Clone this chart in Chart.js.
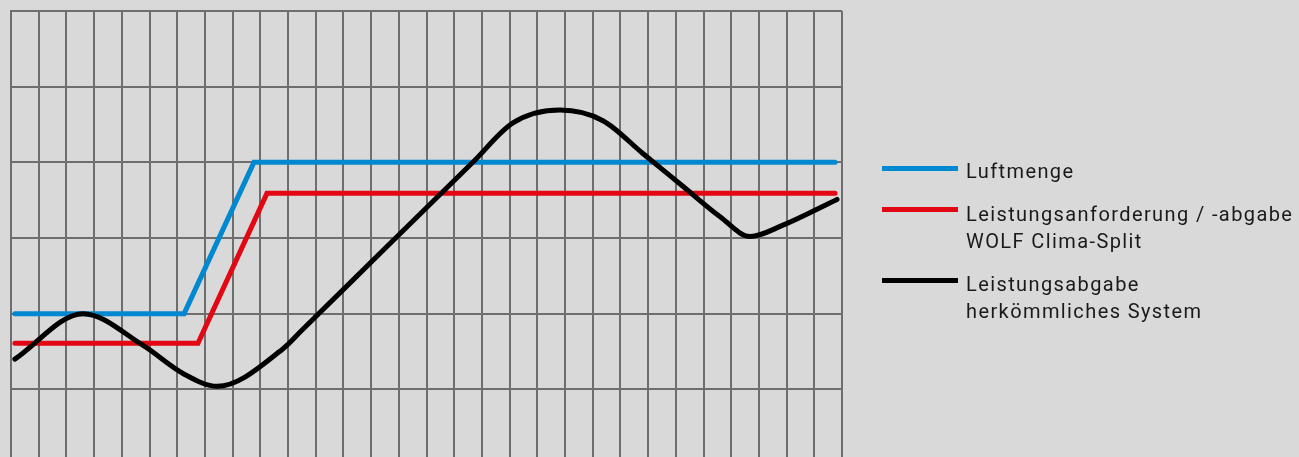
<!DOCTYPE html>
<html>
<head>
<meta charset="utf-8">
<script src="https://cdn.jsdelivr.net/npm/chart.js@4"></script>
<style>
  html, body { margin:0; padding:0; background:#d9d9d9; overflow:hidden; width:1299px; height:457px; }
  #wrap { position:absolute; left:0; top:0; width:1299px; height:470px; }
  .leg { position:absolute; left:882px; width:76px; height:5px; }
  .txt { position:absolute; left:966px; font-family:Roboto, sans-serif; font-size:20px; line-height:27px; color:#1a1a1a; letter-spacing:1.4px; white-space:nowrap; }
</style>
</head>
<body>
<div id="wrap"><canvas id="c"></canvas></div>
<div class="leg" style="top:166px;background:#0088d0"></div>
<div class="txt" style="top:158px">Luftmenge</div>
<div class="leg" style="top:207px;background:#e30613"></div>
<div class="txt" style="top:201px">Leistungsanforderung / -abgabe<br>WOLF Clima-Split</div>
<div class="leg" style="top:278px;background:#000000"></div>
<div class="txt" style="top:271px">Leistungsabgabe<br>herkömmliches System</div>
<script>
const seriesNames = ['Luftmenge', 'Leistungsanforderung / -abgabe WOLF Clima-Split', 'Leistungsabgabe herkömmliches System'];
const blueX = [0.14, 6.25, 8.77, 29.75];
const blueY = [2.00, 2.00, 4.00, 4.00];
const redX  = [0.14, 6.75, 9.24, 29.75];
const redY  = [1.61, 1.61, 3.59, 3.59];
const blackX = [0.14, 2.60, 4.77, 6.21, 7.44, 9.80, 10.50, 13.61, 16.70, 18.12, 19.82, 21.37, 22.80, 24.20, 25.60, 26.68, 27.87, 29.82];
const blackY = [1.40, 2.00, 1.58, 1.21, 1.04, 1.53, 1.78, 2.90, 4.01, 4.52, 4.69, 4.55, 4.12, 3.70, 3.28, 3.02, 3.17, 3.51];
const xMin = 0, xMax = 30, yMin = 0, yMax = 6;

const pts = (xs, ys) => xs.map((x, i) => ({ x: x, y: ys[i] }));

new Chart(document.getElementById('c'), {
  type: 'line',
  data: {
    datasets: [
      { label: seriesNames[2], data: pts(blackX, blackY), borderColor: '#000000', borderWidth: 5, pointRadius: 0, cubicInterpolationMode: 'monotone', borderCapStyle: 'round', order: 1 },
      { label: seriesNames[0], data: pts(blueX, blueY), borderColor: '#0088d0', borderWidth: 5, pointRadius: 0, tension: 0, borderCapStyle: 'round', order: 3 },
      { label: seriesNames[1], data: pts(redX, redY), borderColor: '#e30613', borderWidth: 5, pointRadius: 0, tension: 0, borderCapStyle: 'round', order: 2 }
    ]
  },
  options: {
    responsive: true,
    maintainAspectRatio: false,
    animation: false,
    layout: { padding: { left: 11, top: 11, right: 457, bottom: 5 } },
    plugins: { legend: { display: false }, tooltip: { enabled: false } },
    scales: {
      x: {
        type: 'linear', min: xMin, max: xMax,
        ticks: { display: false, stepSize: 1 },
        grid: { color: '#6e6e6e', lineWidth: 2, drawTicks: false },
        border: { display: true, color: '#6e6e6e', width: 2 }
      },
      y: {
        type: 'linear', min: yMin, max: yMax,
        ticks: { display: false, stepSize: 1 },
        grid: { color: '#6e6e6e', lineWidth: 2, drawTicks: false },
        border: { display: true, color: '#6e6e6e', width: 2 }
      }
    }
  }
});
</script>
</body>
</html>
